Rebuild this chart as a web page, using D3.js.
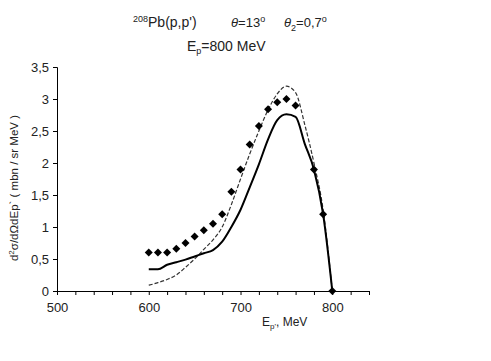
<!DOCTYPE html>
<html>
<head>
<meta charset="utf-8">
<script src="https://cdn.jsdelivr.net/npm/d3@7"></script>
<style>
  body { margin: 0; background: #fff; }
  text { font-family: "Liberation Sans", Arial, sans-serif; fill: #222; }
</style>
</head>
<body>
<script>
var w = 491;
var h = 361;

// measured points (diamonds)
var expE = [600, 610, 620, 630, 640, 650, 660, 670, 680, 690, 700, 710, 720, 730, 740, 750, 760, 780, 790, 800];
var expY = [0.6, 0.6, 0.6, 0.66, 0.75, 0.85, 0.95, 1.05, 1.2, 1.55, 1.9, 2.29, 2.58, 2.84, 2.95, 3.0, 2.9, 1.9, 1.2, 0];

// calculation curves
var calcE = [600, 610, 620, 630, 640, 650, 660, 670, 680, 690, 700, 710, 720, 730, 740, 750, 760, 770, 780, 790, 800];
var solidY = [0.34, 0.34, 0.41, 0.45, 0.49, 0.54, 0.59, 0.64, 0.77, 1.0, 1.27, 1.62, 1.98, 2.37, 2.67, 2.76, 2.72, 2.3, 1.9, 1.2, 0];
var dashY = [0.09, 0.13, 0.18, 0.25, 0.37, 0.5, 0.65, 0.8, 1.0, 1.35, 1.75, 2.14, 2.5, 2.83, 3.08, 3.2, 3.1, 2.6, 2.0, 1.27, 0];

var xTicks = [500, 600, 700, 800];
var yTicks = [0, 0.5, 1, 1.5, 2, 2.5, 3, 3.5];

var svg = d3.select("body")
    .append("svg")
    .attr("width", w)
    .attr("height", h);

var xScale = d3.scaleLinear().domain([500, 840]).range([57, 369]);
var yScale = d3.scaleLinear().domain([0, 3.5]).range([291, 67]);

// axes
var xAxis = d3.axisBottom(xScale)
    .tickValues(d3.range(500, 841, 20))
    .tickSize(4)
    .tickFormat(d => xTicks.includes(d) ? d : "");
var yAxis = d3.axisLeft(yScale)
    .tickValues(yTicks)
    .tickSize(4)
    .tickFormat(d => String(d).replace(".", ","));

var gx = svg.append("g")
    .attr("transform", "translate(0," + yScale(0) + ")")
    .call(xAxis);
gx.select(".domain").attr("stroke", "#000");
gx.selectAll(".tick line").attr("stroke", "#000");
gx.selectAll("text")
    .attr("font-size", "13px")
    .attr("dy", "1.1em")
    .attr("font-family", "Liberation Sans, Arial, sans-serif")
    .attr("fill", "#222");

var gy = svg.append("g")
    .attr("transform", "translate(" + xScale(500) + ",0)")
    .call(yAxis);
gy.select(".domain").attr("stroke", "#000");
gy.selectAll(".tick line").attr("stroke", "#000");
gy.selectAll("text")
    .attr("font-size", "13px")
    .attr("x", -8)
    .attr("font-family", "Liberation Sans, Arial, sans-serif")
    .attr("fill", "#222");

// curves
var curve = d3.line()
    .x((d, i) => xScale(calcE[i]))
    .y(d => yScale(d))
    .curve(d3.curveMonotoneX);

svg.append("path")
    .datum(dashY)
    .attr("d", curve)
    .attr("fill", "none")
    .attr("stroke", "#333")
    .attr("stroke-width", 1.2)
    .attr("stroke-dasharray", "4,2");

svg.append("path")
    .datum(solidY)
    .attr("d", curve)
    .attr("fill", "none")
    .attr("stroke", "#000")
    .attr("stroke-width", 2);

// diamonds
svg.selectAll("path.pt")
    .data(expY)
    .join("path")
    .attr("class", "pt")
    .attr("d", "M0,-4L4,0L0,4L-4,0Z")
    .attr("transform", (d, i) => "translate(" + xScale(expE[i]) + "," + yScale(d) + ")")
    .attr("fill", "#000");

// title
var t1 = svg.append("text")
    .attr("x", 133)
    .attr("y", 27)
    .attr("font-size", "14px");
t1.append("tspan").attr("font-size", "9px").attr("dy", "-5").text("208");
t1.append("tspan").attr("dy", "5").text("Pb(p,p')");

var t2 = svg.append("text")
    .attr("x", 231)
    .attr("y", 27)
    .attr("font-size", "13px");
t2.append("tspan").attr("font-style", "italic").text("θ");
t2.append("tspan").text("=13");
t2.append("tspan").attr("font-size", "9px").attr("dy", "-5").text("o");

var t3 = svg.append("text")
    .attr("x", 284)
    .attr("y", 27)
    .attr("font-size", "13px");
t3.append("tspan").attr("font-style", "italic").text("θ");
t3.append("tspan").attr("font-size", "9px").attr("dy", "4").text("2");
t3.append("tspan").attr("dy", "-4").text("=0,7");
t3.append("tspan").attr("font-size", "9px").attr("dy", "-5").text("o");

var t4 = svg.append("text")
    .attr("x", 187)
    .attr("y", 51)
    .attr("font-size", "14px");
t4.append("tspan").text("E");
t4.append("tspan").attr("font-size", "9px").attr("dy", "3").text("p");
t4.append("tspan").attr("dy", "-3").text("=800 MeV");

// x label
var xl = svg.append("text")
    .attr("x", 262)
    .attr("y", 326)
    .attr("font-size", "12px");
xl.append("tspan").text("E");
xl.append("tspan").attr("font-size", "8px").attr("dy", "3").text("p'");
xl.append("tspan").attr("dy", "-3").text(", MeV");

// y label
var yl = svg.append("text")
    .attr("transform", "translate(18,188) rotate(-90)")
    .attr("text-anchor", "middle")
    .attr("font-size", "11.5px");
yl.append("tspan").text("d");
yl.append("tspan").attr("font-size", "8px").attr("dy", "-4").text("2");
yl.append("tspan").attr("dy", "4").text("σ/dΩdEp`  ( mbn / sr MeV )");
</script>
</body>
</html>
